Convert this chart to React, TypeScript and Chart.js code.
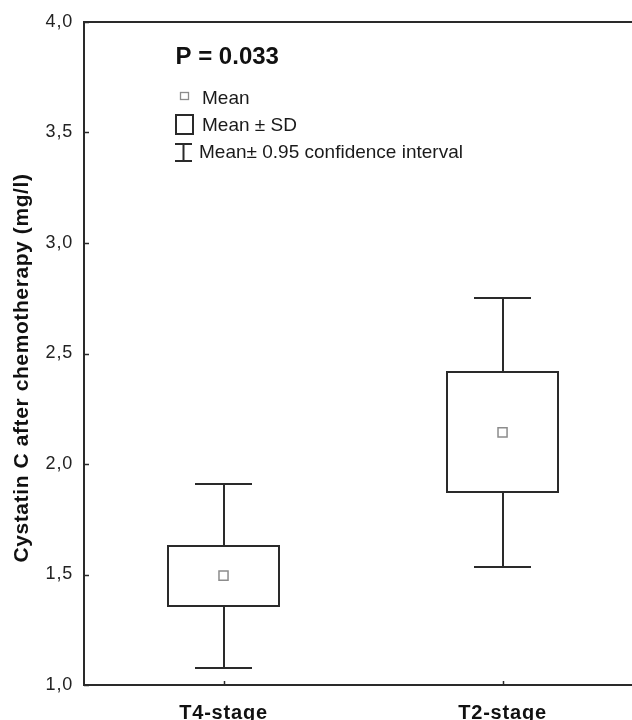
import React, { useEffect, useRef } from 'react';
import { Chart, registerables } from 'chart.js';

Chart.register(...registerables);

// ---- data ----
const categories = ['T4-stage', 'T2-stage'];
const meanValues = [1.495, 2.143];
const sdLower = [1.356, 1.872];
const sdUpper = [1.63, 2.415];
const ciLower = [1.077, 1.535];
const ciUpper = [1.91, 2.75];
const yMin = 1.0;
const yMax = 4.0;
const yStep = 0.5;
const pValueText = 'P = 0.033';
const legendLabels = ['Mean', 'Mean \u00b1 SD', 'Mean\u00b1 0.95 confidence interval'];
const yAxisTitle = 'Cystatin C after chemotherapy (mg/l)';

const FONT = '"Liberation Sans", Arial, Helvetica, sans-serif';
const BOX_HALF = 0.2;
const CAP_HALF = 0.102;
const INK = '#2a2a2a';

const boxPlugin = {
  id: 'boxesAndFrame',
  beforeDraw(chart: any) {
    chart.ctx.letterSpacing = '0.8px';
  },
  beforeDatasetsDraw(chart: any) {
    const { ctx } = chart;
    const x = chart.scales.x;
    const y = chart.scales.y;
    ctx.save();
    ctx.letterSpacing = '0px';
    ctx.strokeStyle = INK;
    ctx.lineWidth = 2;
    categories.forEach((_, i) => {
      const v = i + 1;
      const xc = Math.round(x.getPixelForValue(v));
      const xl = Math.round(x.getPixelForValue(v - BOX_HALF));
      const xr = Math.round(x.getPixelForValue(v + BOX_HALF));
      const cl = Math.round(x.getPixelForValue(v - CAP_HALF));
      const cr = Math.round(x.getPixelForValue(v + CAP_HALF));
      const yCiH = Math.round(y.getPixelForValue(ciUpper[i]));
      const yCiL = Math.round(y.getPixelForValue(ciLower[i]));
      const ySdH = Math.round(y.getPixelForValue(sdUpper[i]));
      const ySdL = Math.round(y.getPixelForValue(sdLower[i]));
      ctx.beginPath();
      ctx.moveTo(xc, yCiH);
      ctx.lineTo(xc, ySdH);
      ctx.moveTo(xc, ySdL);
      ctx.lineTo(xc, yCiL);
      ctx.moveTo(cl, yCiH);
      ctx.lineTo(cr, yCiH);
      ctx.moveTo(cl, yCiL);
      ctx.lineTo(cr, yCiL);
      ctx.stroke();
      ctx.strokeRect(xl, ySdH, xr - xl, ySdL - ySdH);
    });
    ctx.restore();
  },
  afterDraw(chart: any) {
    const { ctx, chartArea } = chart;
    const x = chart.scales.x;
    const y = chart.scales.y;
    ctx.save();
    ctx.letterSpacing = '0px';
    // top frame line
    ctx.strokeStyle = INK;
    ctx.lineWidth = 2;
    ctx.beginPath();
    ctx.moveTo(chartArea.left, Math.round(chartArea.top));
    ctx.lineTo(chart.width, Math.round(chartArea.top));
    ctx.stroke();
    // inner tick marks
    ctx.lineWidth = 1.5;
    y.ticks.forEach((t: any) => {
      const py = Math.round(y.getPixelForValue(t.value)) + 0.5;
      ctx.beginPath();
      ctx.moveTo(chartArea.left, py);
      ctx.lineTo(chartArea.left + 5, py);
      ctx.stroke();
    });
    x.ticks.forEach((t: any) => {
      const px = Math.round(x.getPixelForValue(t.value)) + 0.5;
      ctx.beginPath();
      ctx.moveTo(px, chartArea.bottom);
      ctx.lineTo(px, chartArea.bottom - 4);
      ctx.stroke();
    });

    // y axis title
    ctx.save();
    ctx.translate(27.5, 368);
    ctx.rotate(-Math.PI / 2);
    ctx.fillStyle = '#111';
    ctx.font = `bold 21px ${FONT}`;
    ctx.letterSpacing = '0.6px';
    ctx.textAlign = 'center';
    ctx.textBaseline = 'alphabetic';
    ctx.fillText(yAxisTitle, 0, 0);
    ctx.restore();

    // P value
    ctx.fillStyle = '#111';
    ctx.textAlign = 'left';
    ctx.textBaseline = 'alphabetic';
    ctx.font = `bold 24px ${FONT}`;
    ctx.fillText(pValueText, 175.5, 63.5);

    // legend
    ctx.font = `19px ${FONT}`;
    ctx.fillStyle = '#1a1a1a';
    // mean symbol
    ctx.strokeStyle = '#8c8c8c';
    ctx.lineWidth = 1.3;
    ctx.strokeRect(180.5, 92.5, 8, 7);
    ctx.fillText(legendLabels[0], 202, 104);
    // SD box symbol
    ctx.strokeStyle = INK;
    ctx.lineWidth = 2;
    ctx.strokeRect(176, 115, 17, 19);
    ctx.fillText(legendLabels[1], 202, 130.5);
    // CI symbol
    ctx.beginPath();
    ctx.moveTo(175, 144);
    ctx.lineTo(192, 144);
    ctx.moveTo(183.5, 144);
    ctx.lineTo(183.5, 161);
    ctx.moveTo(175, 161);
    ctx.lineTo(192, 161);
    ctx.stroke();
    ctx.fillText(legendLabels[2], 199, 157.5);
    ctx.restore();
  },
};

export default function App() {
  const canvasRef = useRef<HTMLCanvasElement | null>(null);

  useEffect(() => {
    const canvas = canvasRef.current;
    if (!canvas) return;
    const chart = new Chart(canvas, {
      type: 'scatter',
      data: {
        datasets: [
          {
            label: 'Mean',
            data: meanValues.map((m, i) => ({ x: i + 1, y: m })),
            pointStyle: 'rect',
            pointRadius: 6.4,
            borderColor: '#8c8c8c',
            borderWidth: 1.5,
            backgroundColor: '#ffffff',
          },
        ],
      },
      options: {
        animation: false,
        responsive: false,
        devicePixelRatio: 1,
        layout: { autoPadding: false, padding: { top: 22, left: 0, right: 0, bottom: 0 } },
        plugins: {
          legend: { display: false },
          tooltip: { enabled: false },
          title: { display: false },
        },
        scales: {
          x: {
            type: 'linear',
            min: 0.5,
            max: 2.464,
            grid: { display: false, drawTicks: false },
            border: { display: true, color: INK, width: 2 },
            afterBuildTicks: (scale: any) => {
              scale.ticks = categories.map((_, i) => ({ value: i + 1 }));
            },
            afterFit: (scale: any) => {
              scale.height = 35;
            },
            ticks: {
              padding: 16,
              color: '#111',
              font: { family: FONT, size: 20, weight: 'bold' },
              callback: (value: any) => categories[Math.round(Number(value)) - 1] ?? '',
              maxRotation: 0,
              autoSkip: false,
            },
          },
          y: {
            type: 'linear',
            min: yMin,
            max: yMax,
            grid: { display: false, drawTicks: false },
            border: { display: true, color: INK, width: 2 },
            afterFit: (scale: any) => {
              scale.width = 84;
            },
            ticks: {
              stepSize: yStep,
              padding: 11,
              color: '#222',
              font: { family: FONT, size: 18 },
              callback: (value: any) => Number(value).toFixed(1).replace('.', ','),
            },
          },
        },
      },
      plugins: [boxPlugin],
    });
    return () => chart.destroy();
  }, []);

  return (
    <div style={{ position: 'fixed', left: 0, top: 0, width: 632, height: 720, background: '#fff' }}>
      <canvas ref={canvasRef} width={632} height={720} style={{ display: 'block' }} />
    </div>
  );
}
